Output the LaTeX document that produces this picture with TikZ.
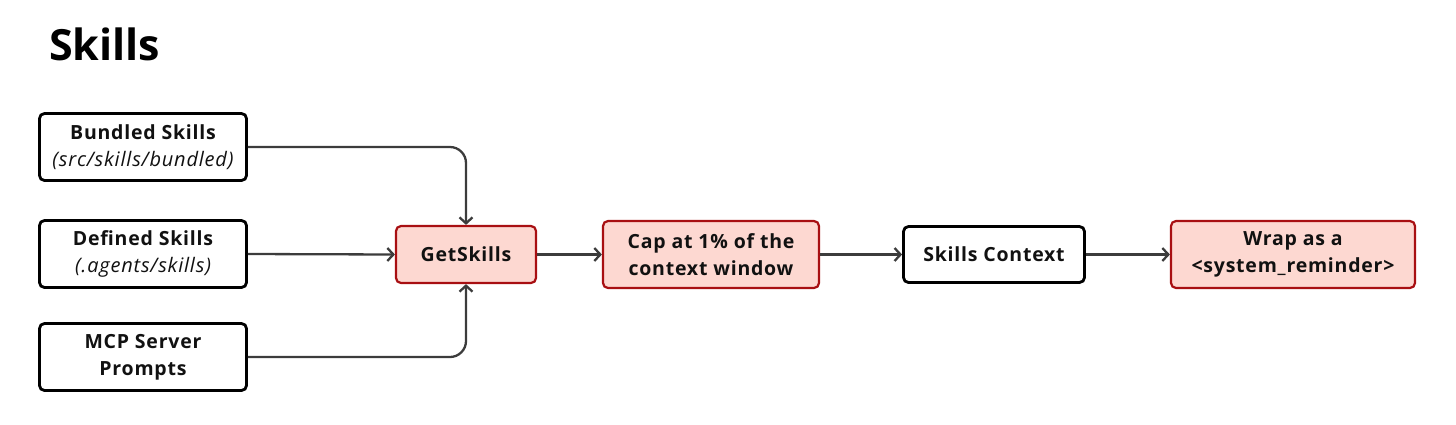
\documentclass[tikz,border=0pt]{standalone}
\usepackage{fontspec}
\setmainfont[LetterSpace=4]{Open Sans}
\newfontfamily\titlefont{Open Sans}
\usetikzlibrary{arrows.meta}
\definecolor{redfill}{HTML}{FDD8D1}
\definecolor{redline}{HTML}{A80F12}
\definecolor{arrowc}{HTML}{3C3C3C}
\definecolor{txt}{HTML}{111111}
\tikzset{
  box/.style={draw=black, line width=2.8pt, rounded corners=5pt, fill=white, align=center, inner sep=0pt, text=txt, font=\bfseries\fontsize{19.5}{27}\selectfont},
  redbox/.style={box, draw=redline, line width=2.2pt, fill=redfill},
  conn/.style={draw=arrowc, line width=2.3pt, rounded corners=16pt, -{Straight Barb[length=6pt,width=13pt,line width=2.3pt]}},
}
\newcommand{\subtxt}[1]{{\normalfont\itshape\fontsize{20}{27}\selectfont #1}}
\begin{document}
\begin{tikzpicture}[x=1pt,y=-1pt]
\useasboundingbox (0,0) rectangle (1456,424);
\node[anchor=base west, inner sep=0pt, font=\titlefont\bfseries\fontsize{43}{50}\selectfont, text=black] (title) at (49,60) {Skills};
\node[box, minimum width=207, minimum height=67] (bund) at (143,147) {Bundled Skills\\\subtxt{(src/skills/bundled)}};
\node[box, minimum width=207, minimum height=67] (def) at (143,254) {Defined Skills\\\subtxt{(.agents/skills)}};
\node[box, minimum width=207, minimum height=67] (mcp) at (143,357) {MCP Server\\Prompts};
\node[redbox, minimum width=140, minimum height=57] (get) at (466,254.5) {GetSkills};
\node[redbox, minimum width=216, minimum height=67] (cap) at (711,254.5) {Cap at 1\% of the\\context window};
\node[box, minimum width=181, minimum height=56] (ctx) at (994,254.5) {Skills Context};
\node[redbox, minimum width=244, minimum height=67] (wrap) at (1293,254.5) {Wrap as a\\<system\_reminder>};
\draw[conn] (bund.east) -| (get.north);
\draw[conn] (def.east) -- (get.west);
\draw[conn] (mcp.east) -| (get.south);
\draw[conn] (get.east) -- (cap.west);
\draw[conn] (cap.east) -- (ctx.west);
\draw[conn] (ctx.east) -- (wrap.west);
\end{tikzpicture}
\end{document}
